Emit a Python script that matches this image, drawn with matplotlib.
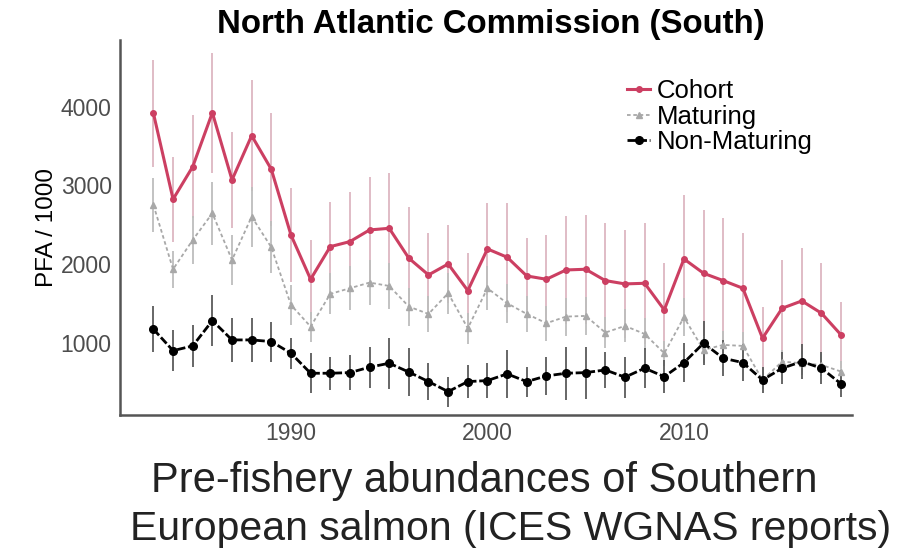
import numpy as np
import matplotlib
matplotlib.use("Agg")
import matplotlib.pyplot as plt

plt.rcParams['font.family'] = ['Liberation Sans', 'DejaVu Sans']

# Data (PFA / 1000), 1983-2018
years = np.arange(1983, 2019)
cohort = [3915, 2824, 3237, 3923, 3069, 3631, 3204, 2370, 1808, 2222, 2286, 2434,
          2455, 2075, 1863, 2002, 1664, 2193, 2088, 1850, 1808, 1926, 1935, 1791,
          1749, 1757, 1419, 2066, 1884, 1791, 1694, 1060, 1440, 1533, 1377, 1101]
cohort_err = [680, 540, 650, 760, 610, 700, 715, 600, 500, 570, 630, 670,
              700, 650, 530, 500, 480, 580, 690, 480, 560, 680, 690, 730,
              685, 765, 600, 810, 800, 795, 700, 400, 610, 670, 640, 420]
maturing = [2751, 1935, 2307, 2646, 2053, 2603, 2214, 1482, 1207, 1622, 1694, 1766,
            1723, 1461, 1368, 1631, 1186, 1694, 1504, 1368, 1250, 1334, 1343, 1131,
            1216, 1114, 869, 1326, 911, 975, 962, 530, 763, 742, 721, 636]
maturing_err = [340, 235, 300, 400, 320, 380, 330, 250, 190, 260, 280, 290,
                290, 240, 230, 260, 200, 280, 250, 230, 220, 240, 240, 200,
                210, 200, 160, 240, 170, 180, 180, 120, 150, 150, 140, 130]
non_maturing = [1174, 902, 962, 1283, 1038, 1038, 1017, 869, 615, 615, 623, 692,
                742, 630, 509, 382, 509, 522, 607, 509, 581, 615, 623, 657,
                565, 679, 572, 750, 996, 806, 750, 530, 679, 763, 679, 480]
non_maturing_err = [290, 263, 266, 326, 280, 280, 253, 194, 254, 211, 225, 261,
                    321, 300, 237, 190, 212, 224, 304, 190, 245, 338, 330, 233,
                    261, 257, 212, 250, 280, 230, 230, 170, 200, 220, 200, 170]

fig = plt.figure(figsize=(9.19, 5.48), dpi=100)
ax = fig.add_axes([0.1306, 0.2427, 0.7964, 0.6843])

red = "#CC3F62"

# error bars first so lines sit on top
ax.vlines(years, np.array(cohort) - cohort_err, np.array(cohort) + cohort_err,
          color="#DDB6C1", lw=1.3, zorder=1)
ax.vlines(years, np.array(maturing) - maturing_err, np.array(maturing) + maturing_err,
          color="#BDBDBD", lw=1.3, zorder=2)
ax.vlines(years, np.array(non_maturing) - non_maturing_err, np.array(non_maturing) + non_maturing_err,
          color="#5A5A5A", lw=1.3, zorder=3)

ax.plot(years, cohort, color=red, lw=2.2, marker="o", ms=4, label="Cohort", zorder=5)
ax.plot(years, maturing, color="#A8A8A8", lw=1.3, ls=(0, (2, 1.5)), marker="^", ms=4,
        label="Maturing", zorder=4)
ax.plot(years, non_maturing, color="black", lw=2.0, ls=(0, (3, 1)), marker="o", ms=5.5,
        label="Non-Maturing", zorder=6)

ax.set_xlim(1981.3, 2018.55)
ax.set_ylim(85, 4845)
ax.set_xticks([1990, 2000, 2010])
ax.set_yticks([1000, 2000, 3000, 4000])
ax.tick_params(axis="both", length=0, labelsize=16.5, labelcolor="#4D4D4D")
ax.tick_params(axis="y", pad=6)
ax.tick_params(axis="x", pad=5)

for side in ["top", "right"]:
    ax.spines[side].set_visible(False)
for side in ["left", "bottom"]:
    ax.spines[side].set_color("#555555")
    ax.spines[side].set_linewidth(1.8)

ax.set_ylabel("PFA / 1000", fontsize=17.5, labelpad=2)
fig.text(0.534, 0.956, "North Atlantic Commission (South)", ha="center", va="center",
         fontsize=23.8, fontweight="bold")

ax.legend(loc="upper left", bbox_to_anchor=(0.663, 0.888), bbox_transform=fig.transFigure,
          frameon=False, fontsize=18.5, handlelength=0.9, handletextpad=0.25,
          labelspacing=0.05, borderpad=0.2)

fig.text(0.527, 0.122, "Pre-fishery abundances of Southern", ha="center", va="center",
         fontsize=30, color="#222222")
fig.text(0.556, 0.035, "European salmon (ICES WGNAS reports)", ha="center", va="center",
         fontsize=29.5, color="#222222")

fig.savefig("out.png", dpi=100)
